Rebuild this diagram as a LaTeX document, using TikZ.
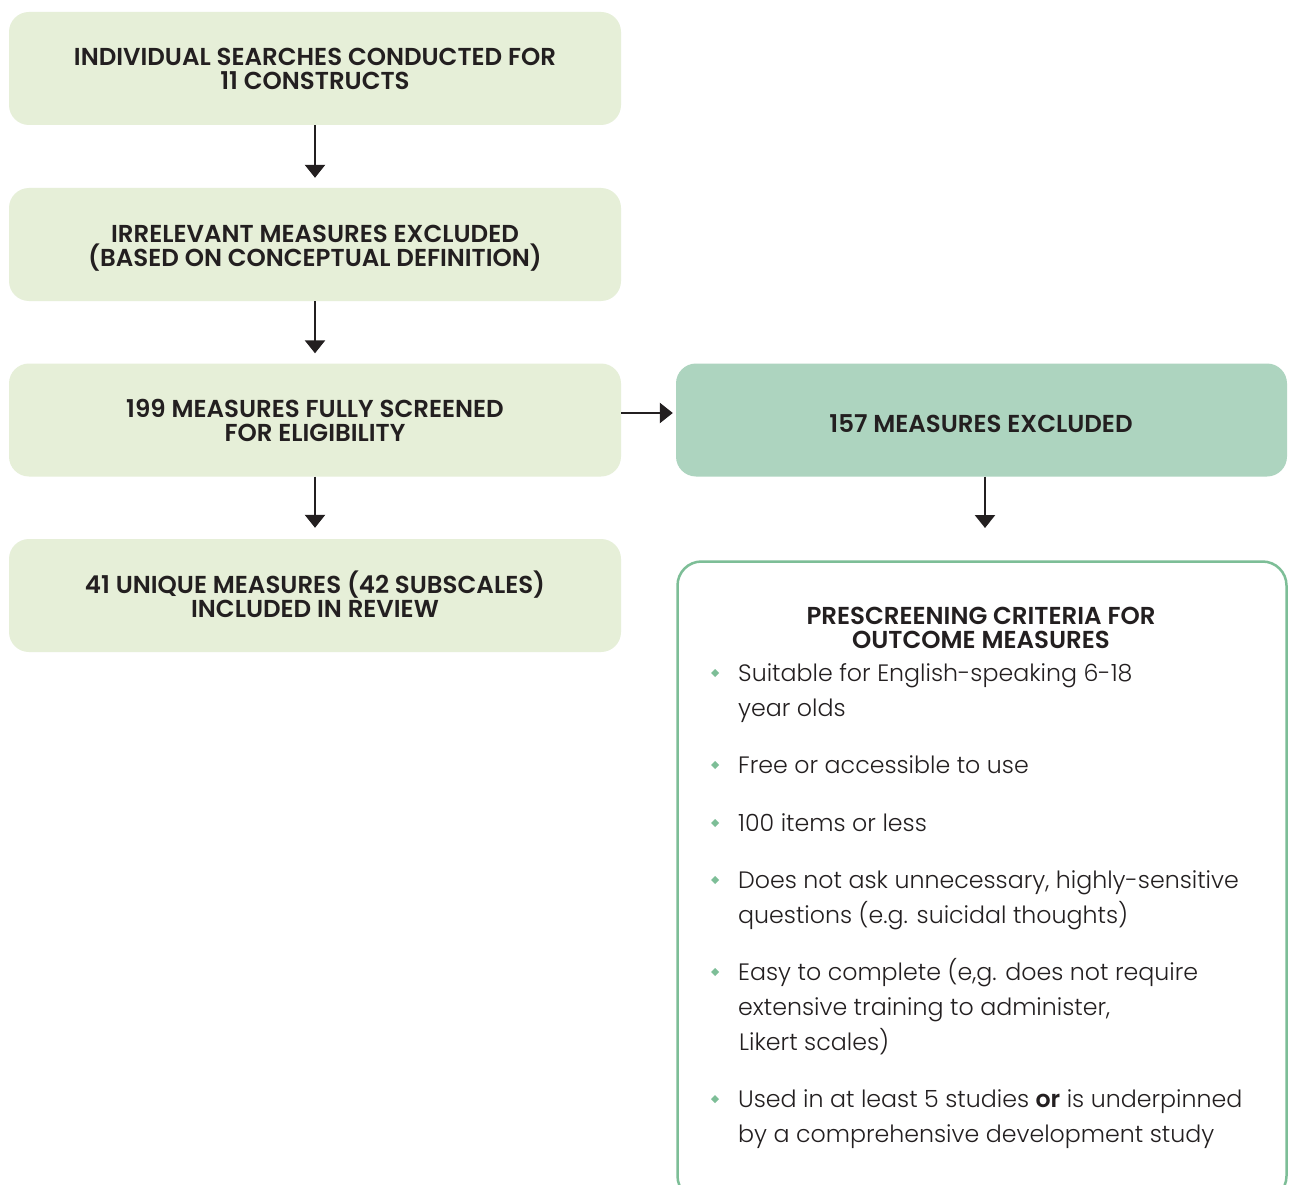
\documentclass[tikz,border=0pt]{standalone}
\usepackage{fontspec}
\setmainfont{Poppins}
\newfontfamily\lightfont{Poppins Light}[BoldFont={Poppins SemiBold}]
\newfontfamily\headfamily{Poppins SemiBold}
\usetikzlibrary{arrows.meta}
\definecolor{lightbox}{HTML}{E6EFD8}
\definecolor{darkbox}{HTML}{ADD4BF}
\definecolor{edgegreen}{HTML}{7DBE97}
\definecolor{ink}{HTML}{231F20}
\newcommand{\itemstrut}{\rule{0pt}{25pt}}
\newcommand{\topstrut}{\rule{0pt}{26pt}}
\newcommand{\botstrut}{\rule[-7pt]{0pt}{7pt}}
\tikzset{
  headfont/.style={font=\headfamily\fontsize{24.5}{24}\selectfont},
  stepbox/.style={fill=lightbox, draw=none, rounded corners=20pt, minimum width=612pt, minimum height=113pt, inner sep=0pt, align=center, text=ink, headfont},
  exbox/.style={stepbox, fill=darkbox, minimum width=611pt},
  flow/.style={draw=ink, line width=2.5pt, -{Triangle[width=20pt,length=13pt]}},
  item/.style={anchor=north west, align=left, inner sep=0pt, text=ink, font=\lightfont\fontsize{23.7}{35}\selectfont}
}
\begin{document}
\begin{tikzpicture}[x=1pt,y=-1pt]
\clip (0,0) rectangle (1291,1185);
\fill[white] (0,0) rectangle (1291,1185);
\node[stepbox] (b1) at (315,68.5) {\topstrut INDIVIDUAL SEARCHES CONDUCTED FOR\\11 CONSTRUCTS\botstrut};
\node[stepbox] (b2) at (315,244.5) {\topstrut IRRELEVANT MEASURES EXCLUDED\\(BASED ON CONCEPTUAL DEFINITION)\botstrut};
\node[stepbox] (b3) at (315,420) {\topstrut 199 MEASURES FULLY SCREENED\\FOR ELIGIBILITY\botstrut};
\node[stepbox] (b4) at (315,595.5) {\topstrut 41 UNIQUE MEASURES (42 SUBSCALES)\\INCLUDED IN REVIEW\botstrut};
\node[exbox] (ex) at (981.5,420) {};
\node[inner sep=0pt, text=ink, headfont] (exlabel) at (981,424) {157 MEASURES EXCLUDED};
\draw[draw=edgegreen, line width=2.5pt, fill=white, rounded corners=24pt] (677.5,561.5) rectangle (1286.5,1200);
\node[align=center, inner sep=0pt, text=ink, headfont] (crit) at (981,627) {\topstrut PRESCREENING CRITERIA FOR\\OUTCOME MEASURES\botstrut};
\coordinate (critTop) at (985,561);
\draw[flow] (b1.south) -- ([yshift=10pt]b2.north);
\draw[flow] (b2.south) -- ([yshift=10pt]b3.north);
\draw[flow] (b3.south) -- ([yshift=11pt]b4.north);
\draw[flow] ([yshift=7pt]b3.east) -- ([yshift=7pt,xshift=-3pt]ex.west);
\draw[flow] (ex.south -| critTop) -- ([yshift=33pt]critTop);
\foreach \y in {673,765,823,880,972,1099}{
  \fill[edgegreen] (715,\y-4) -- (719,\y) -- (715,\y+4) -- (711,\y) -- cycle;
}
\node[item] (i1) at (738,656) {\itemstrut Suitable for English-speaking 6-18\\year olds};
\node[item] (i2) at (738,748) {\itemstrut Free or accessible to use};
\node[item] (i3) at (738,806) {\itemstrut 100 items or less};
\node[item] (i4) at (738,863) {\itemstrut Does not ask unnecessary, highly-sensitive\\questions (e.g. suicidal thoughts)};
\node[item] (i5) at (738,955) {\itemstrut Easy to complete (e,g. does not require\\extensive training to administer,\\\hspace*{1pt}Likert scales)};
\node[item] (i6) at (738,1082) {\itemstrut Used in at least 5 studies \textbf{or} is underpinned\\by a comprehensive development study};
\end{tikzpicture}
\end{document}
